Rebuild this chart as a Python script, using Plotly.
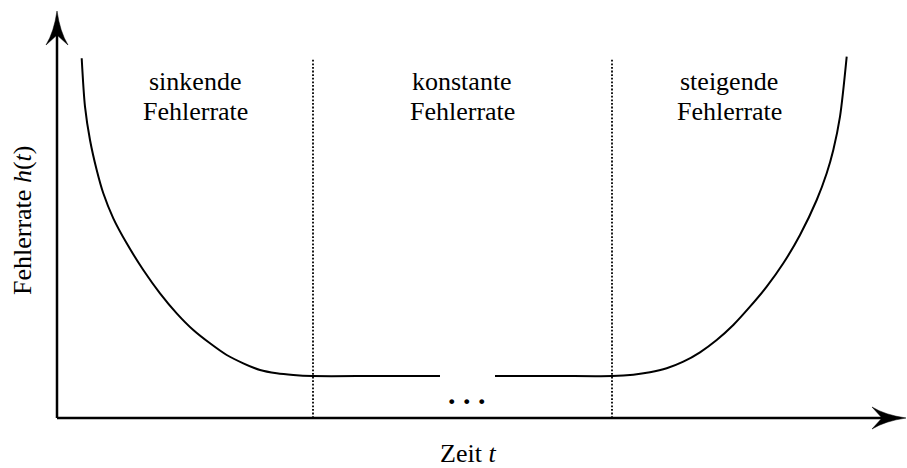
import plotly.graph_objects as go

# Data (arbitrary units: time t, failure rate h(t))
t_early = [24.7, 28, 33, 39.7, 46.3, 56.3, 69.7, 86.3, 103, 119.7, 136.3, 153, 169.7, 186.3, 203, 219.7, 236.3, 255]
h_early = [359.7, 311.3, 278, 248, 224.7, 199.7, 174.7, 148, 124.7, 104.7, 88, 74.7, 63, 54.7, 48, 44.7, 43, 42]
t_const_a = [255, 320, 383]
h_const_a = [42, 42, 42]
t_const_b = [438, 500, 555]
h_const_b = [42, 42, 42]
t_wear = [555, 576.3, 593, 609.7, 626.3, 643, 659.7, 676.3, 693, 709.7, 726.3, 743, 759.7, 769.7, 776.3, 783, 789.7]
h_wear = [42, 43.3, 45.7, 49.7, 56.3, 65.7, 78, 93, 111.3, 131.3, 154.7, 183, 218, 244.7, 268, 301.3, 361.3]
phase_bounds = [256, 555]
phase_labels = [("sinkende", "Fehlerrate", 138), ("konstante", "Fehlerrate", 405), ("steigende", "Fehlerrate", 672)]

FONT = "Liberation Serif"
fig = go.Figure()
line = dict(color="black", width=2)
fig.add_trace(go.Scatter(x=t_early + t_const_a[1:], y=h_early + h_const_a[1:], mode="lines",
                         line=dict(**line, shape="spline", smoothing=0.8), hoverinfo="skip"))
fig.add_trace(go.Scatter(x=t_const_b + t_wear[1:], y=h_const_b + h_wear[1:], mode="lines",
                         line=dict(**line, shape="spline", smoothing=0.8), hoverinfo="skip"))

shapes = []
for b in phase_bounds:
    shapes.append(dict(type="line", xref="x", yref="y", x0=b, x1=b, y0=0, y1=360,
                       line=dict(color="black", width=1.8, dash="1.8px,1.8px")))
# axes with stealth arrows
shapes.append(dict(type="line", x0=0, x1=0, y0=0, y1=385, line=dict(color="black", width=2.5)))
shapes.append(dict(type="line", x0=0, x1=826, y0=0, y1=0, line=dict(color="black", width=2.5)))
shapes.append(dict(type="path", path="M 0,407 Q 3,386 11,373 L 0,383 L -11,373 Q -3,386 0,407 Z",
                   fillcolor="black", line=dict(color="black", width=0.5)))
shapes.append(dict(type="path", path="M 849,0 Q 828,3 815,11 L 825,0 L 815,-11 Q 828,-3 849,0 Z",
                   fillcolor="black", line=dict(color="black", width=0.5)))

ann = []
for l1, l2, xc in phase_labels:
    ann.append(dict(x=xc, y=337, text=l1, showarrow=False, xanchor="center", yanchor="middle",
                    font=dict(family=FONT, size=26, color="#000")))
    ann.append(dict(x=xc, y=307, text=l2, showarrow=False, xanchor="center", yanchor="middle",
                    font=dict(family=FONT, size=26, color="#000")))
ann.append(dict(x=410, y=25, text="<b>. . .</b>", showarrow=False, xanchor="center", yanchor="middle",
                font=dict(family=FONT, size=30, color="black")))
ann.append(dict(x=411, y=-35, text="Zeit <i>t</i>", showarrow=False, xanchor="center", yanchor="middle",
                font=dict(family=FONT, size=26, color="#000")))
ann.append(dict(x=-35, y=197, text="Fehlerrate <i>h</i>(<i>t</i>)", showarrow=False, textangle=-90,
                xanchor="center", yanchor="middle", font=dict(family=FONT, size=26, color="#000")))

fig.update_layout(
    width=907, height=468, margin=dict(l=0, r=0, t=0, b=0),
    paper_bgcolor="white", plot_bgcolor="white", showlegend=False,
    xaxis=dict(range=[-57, 850], visible=False, fixedrange=True),
    yaxis=dict(range=[-50, 418], visible=False, fixedrange=True),
    shapes=shapes, annotations=ann,
)
fig.write_html("out.html", config={"displayModeBar": False},
               post_script="document.body.style.margin='0';")
